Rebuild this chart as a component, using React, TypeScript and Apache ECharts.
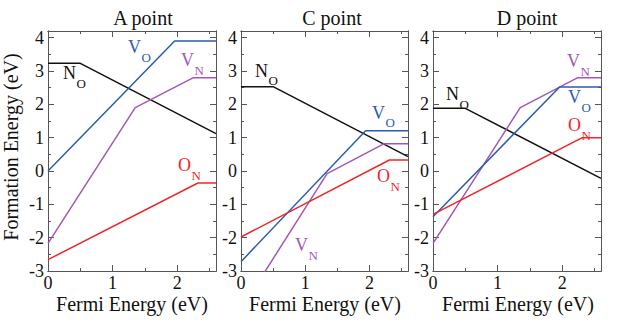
import React, { useEffect, useRef } from "react";
import * as echarts from "echarts";

// ---- data ----
const panelTitles = ["A point", "C point", "D point"];
const xName = "Fermi Energy (eV)";
const yName = "Formation Energy (eV)";

const xMin = 0;
const xMax = 2.6;
const yMin = -3;
const yMax = 4.2;

// Panel A
const noA = [[0, 3.23], [0.5, 3.23], [2.6, 1.12]];
const voA = [[0, 0], [1.96, 3.9], [2.6, 3.9]];
const vnA = [[0, -2.17], [1.35, 1.9], [2.25, 2.8], [2.6, 2.8]];
const onA = [[0, -2.66], [2.32, -0.36], [2.6, -0.36]];
// Panel C
const noC = [[0, 2.53], [0.5, 2.53], [2.6, 0.43]];
const voC = [[0, -2.72], [1.94, 1.21], [2.6, 1.21]];
const vnC = [[0, -4.15], [1.34, -0.08], [2.23, 0.82], [2.6, 0.82]];
const onC = [[0, -1.98], [2.31, 0.33], [2.6, 0.33]];
// Panel D
const noD = [[0, 1.88], [0.5, 1.88], [2.6, -0.22]];
const voD = [[0, -1.37], [1.96, 2.52], [2.6, 2.52]];
const vnD = [[0, -2.17], [1.35, 1.9], [2.24, 2.8], [2.6, 2.8]];
const onD = [[0, -1.3], [2.31, 1.0], [2.6, 1.0]];

const panelSeries = [
  { NO: noA, VO: voA, VN: vnA, ON: onA },
  { NO: noC, VO: voC, VN: vnC, ON: onC },
  { NO: noD, VO: voD, VN: vnD, ON: onD },
];

// label annotations: [main, sub, left px, center-y px, series key]
const labelsA = [["V", "O", 128, 47, "VO"], ["N", "O", 63, 73, "NO"], ["V", "N", 181, 60, "VN"], ["O", "N", 178, 165, "ON"]];
const labelsC = [["N", "O", 255, 70.5, "NO"], ["V", "O", 372, 112.5, "VO"], ["O", "N", 377, 176, "ON"], ["V", "N", 295, 245, "VN"]];
const labelsD = [["V", "N", 567, 61, "VN"], ["V", "O", 568, 97, "VO"], ["O", "N", 568, 125, "ON"], ["N", "O", 446, 94, "NO"]];
const panelLabels = [labelsA, labelsC, labelsD];

const colors: Record<string, string> = {
  NO: "#111111",
  VO: "#2a5cb0",
  VN: "#a457b4",
  ON: "#f0262a",
};

const grids = [
  { left: 48, top: 31, width: 168, height: 240 },
  { left: 241, top: 31, width: 167, height: 240 },
  { left: 433, top: 31, width: 168, height: 240 },
];
const titleX = [143, 332, 527];
const xNameX = [132, 325, 518];

const FONT = "Liberation Serif";
const FRAME = "#555555";

function App() {
  const ref = useRef<HTMLDivElement>(null);
  useEffect(() => {
    if (!ref.current) return;
    const chart = echarts.init(ref.current, undefined, { renderer: "svg" });
    const intLabel = (v: number) => (Math.abs(v - Math.round(v)) < 1e-9 ? String(Math.round(v)) : "");
    const xAxes: any[] = [];
    const yAxes: any[] = [];
    const series: any[] = [];
    const graphic: any[] = [];
    const txt = (text: string, size: number, fill: string, align: string) => ({
      text,
      fontFamily: FONT,
      fontSize: size,
      fill,
      textAlign: align,
      textVerticalAlign: "middle",
    });

    grids.forEach((g, i) => {
      const mk = (dim: "x" | "y", position: string, interval: number, len: number, labels: boolean) => ({
        type: "value",
        gridIndex: i,
        position,
        min: dim === "x" ? xMin : yMin,
        max: dim === "x" ? xMax : yMax,
        interval,
        splitLine: { show: false },
        axisLine: { show: true, onZero: false, lineStyle: { color: FRAME, width: 1 } },
        axisTick: { show: true, inside: true, length: len, lineStyle: { color: FRAME, width: 1 } },
        axisLabel: {
          show: labels,
          formatter: intLabel,
          fontFamily: FONT,
          fontSize: 18,
          lineHeight: 16,
          color: "#111",
          margin: dim === "x" ? 4 : 4,
        },
      });
      xAxes.push(mk("x", "bottom", 1, 6, true));
      xAxes.push(mk("x", "bottom", 0.5, 3, false));
      xAxes.push(mk("x", "top", 1, 6, false));
      xAxes.push(mk("x", "top", 0.5, 3, false));
      yAxes.push(mk("y", "left", 1, 6, true));
      yAxes.push(mk("y", "left", 0.5, 3, false));
      yAxes.push(mk("y", "right", 1, 6, false));
      yAxes.push(mk("y", "right", 0.5, 3, false));

      const ps: any = panelSeries[i];
      ["NO", "VN", "VO", "ON"].forEach((k) => {
        series.push({
          type: "line",
          name: panelTitles[i] + " " + k,
          xAxisIndex: 4 * i,
          yAxisIndex: 4 * i,
          data: ps[k],
          showSymbol: false,
          symbol: "none",
          clip: true,
          lineStyle: { color: colors[k], width: 1.5 },
          z: 3,
        });
      });

      graphic.push({ type: "text", x: titleX[i], y: 18, style: txt(panelTitles[i], 20, "#111", "center") });
      graphic.push({ type: "text", x: xNameX[i], y: 304, style: { ...txt(xName, 20, "#111", "center"), lineHeight: 18 } });

      panelLabels[i].forEach((l: any) => {
        const [main, sub, lx, cy, key] = l;
        graphic.push({ type: "text", x: lx, y: cy, style: txt(main, 18, colors[key], "left") });
        graphic.push({ type: "text", x: lx + 13.5, y: cy + 10, style: txt(sub, 13, colors[key], "left") });
      });
    });

    graphic.push({
      type: "text",
      x: 11,
      y: 147,
      rotation: Math.PI / 2,
      style: txt(yName, 20, "#111", "center"),
    });

    chart.setOption({
      animation: false,
      backgroundColor: "#ffffff",
      grid: grids,
      xAxis: xAxes,
      yAxis: yAxes,
      series,
      graphic,
    });
    return () => chart.dispose();
  }, []);
  return (
    <div
      ref={ref}
      style={{ position: "absolute", left: 0, top: 0, width: 617, height: 322, background: "#fff" }}
    />
  );
}

export default App;
